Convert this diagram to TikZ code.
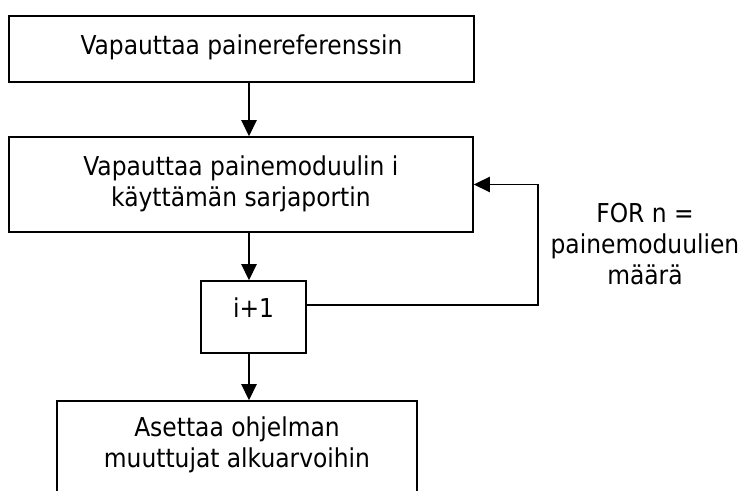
\documentclass[tikz,border=0pt]{standalone}
\usepackage{fontspec}
\setmainfont{DejaVu Sans Condensed}
\usetikzlibrary{arrows.meta}
\begin{document}
\begin{tikzpicture}[x=0.75pt,y=-0.75pt,
  box/.style={draw, line width=1.3pt, rectangle, inner sep=0pt},
  txt/.style={font=\fontsize{19.5}{23.6}\selectfont, align=center, inner sep=0pt, anchor=base},
  arr/.style={line width=1.3pt, -{Triangle[length=12pt,width=11.5pt]}}]
  % page
  \fill[white] (0,0) rectangle (739,491);
  \useasboundingbox (0,0) rectangle (739,491);
  \clip (0,0) rectangle (739,491);

  % boxes
  \node[box, minimum width=348.75pt, minimum height=49.5pt] (b1) at (241.5,49) {};
  \node[box, minimum width=348pt, minimum height=71.25pt] (b2) at (241,184.5) {};
  \node[box, minimum width=78.75pt, minimum height=54pt] (b3) at (253.5,317) {};
  \node[box, minimum width=270pt, minimum height=119.25pt] (b4) at (237,480.5) {};

  % texts (anchored at the baseline of their last line)
  \node[txt] (t1) at (241.5,55) {Vapauttaa painereferenssin};
  \node[txt] (t2) at (241,207) {Vapauttaa painemoduulin i\\käyttämän sarjaportin};
  \node[txt] (t3) at (253.5,318) {i+1};
  \node[txt] (t4) at (237,468) {Asettaa ohjelman\\muuttujat alkuarvoihin};
  \node[txt] (loopnote) at (645,285) {FOR n =\\painemoduulien\\määrä};

  % connectors
  \coordinate (col) at (249,0);
  \coordinate (loopR) at (538,305);
  \draw[arr] (b1.south -| col) -- (b2.north -| col);
  \draw[arr] (b2.south -| col) -- (b3.north -| col);
  \draw[arr] (b3.south -| col) -- (b4.north -| col);
  \draw[arr] (b3.east |- loopR) -- (loopR) |- (b2.east);
\end{tikzpicture}
\end{document}
